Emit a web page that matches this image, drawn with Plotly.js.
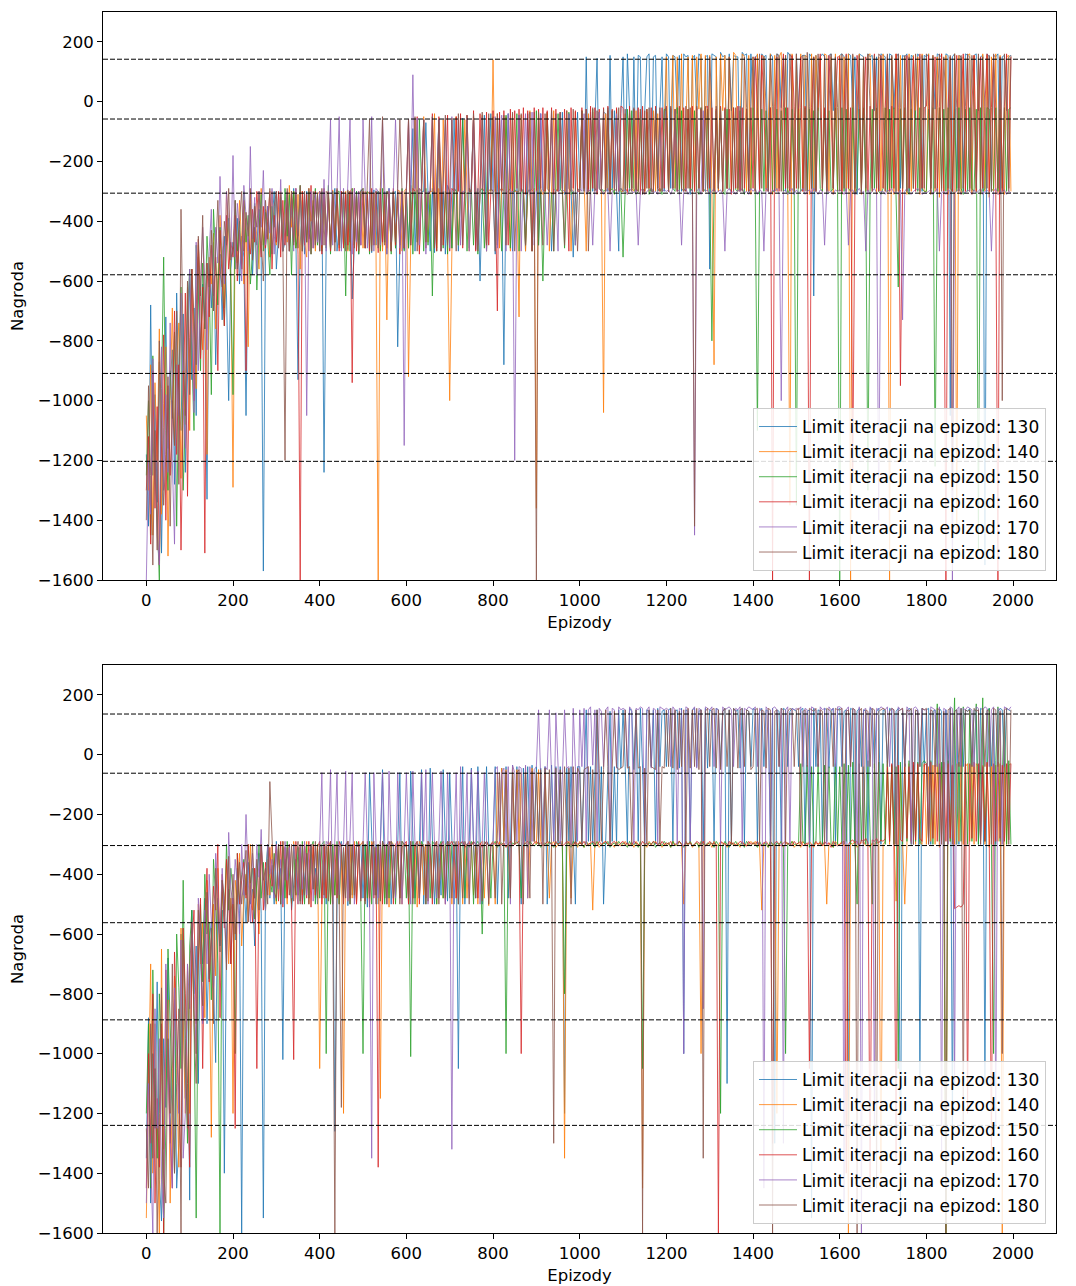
<!DOCTYPE html>
<html>
<head>
<meta charset="utf-8">
<script src="https://cdn.plot.ly/plotly-3.0.1.min.js"></script>
<style>
  html, body { margin: 0; padding: 0; background: #fff; }
  #chart { width: 1076px; height: 1286px; }
</style>
</head>
<body>
<div id="chart"></div>
<script>
// Episode numbers (one sample every 5 episodes)
const episodes = [
  0,5,10,15,20,25,30,35,40,45,50,55,60,65,70,75,80,85,90,95,
  100,105,110,115,120,125,130,135,140,145,150,155,160,165,170,175,180,185,190,195,
  200,205,210,215,220,225,230,235,240,245,250,255,260,265,270,275,280,285,290,295,
  300,305,310,315,320,325,330,335,340,345,350,355,360,365,370,375,380,385,390,395,
  400,405,410,415,420,425,430,435,440,445,450,455,460,465,470,475,480,485,490,495,
  500,505,510,515,520,525,530,535,540,545,550,555,560,565,570,575,580,585,590,595,
  600,605,610,615,620,625,630,635,640,645,650,655,660,665,670,675,680,685,690,695,
  700,705,710,715,720,725,730,735,740,745,750,755,760,765,770,775,780,785,790,795,
  800,805,810,815,820,825,830,835,840,845,850,855,860,865,870,875,880,885,890,895,
  900,905,910,915,920,925,930,935,940,945,950,955,960,965,970,975,980,985,990,995,
  1000,1005,1010,1015,1020,1025,1030,1035,1040,1045,1050,1055,1060,1065,1070,1075,1080,1085,1090,1095,
  1100,1105,1110,1115,1120,1125,1130,1135,1140,1145,1150,1155,1160,1165,1170,1175,1180,1185,1190,1195,
  1200,1205,1210,1215,1220,1225,1230,1235,1240,1245,1250,1255,1260,1265,1270,1275,1280,1285,1290,1295,
  1300,1305,1310,1315,1320,1325,1330,1335,1340,1345,1350,1355,1360,1365,1370,1375,1380,1385,1390,1395,
  1400,1405,1410,1415,1420,1425,1430,1435,1440,1445,1450,1455,1460,1465,1470,1475,1480,1485,1490,1495,
  1500,1505,1510,1515,1520,1525,1530,1535,1540,1545,1550,1555,1560,1565,1570,1575,1580,1585,1590,1595,
  1600,1605,1610,1615,1620,1625,1630,1635,1640,1645,1650,1655,1660,1665,1670,1675,1680,1685,1690,1695,
  1700,1705,1710,1715,1720,1725,1730,1735,1740,1745,1750,1755,1760,1765,1770,1775,1780,1785,1790,1795,
  1800,1805,1810,1815,1820,1825,1830,1835,1840,1845,1850,1855,1860,1865,1870,1875,1880,1885,1890,1895,
  1900,1905,1910,1915,1920,1925,1930,1935,1940,1945,1950,1955,1960,1965,1970,1975,1980,1985,1990,1995
];

const iterationLimits = [130, 140, 150, 160, 170, 180];

// ---- Run A (upper panel): reward per episode ----
const rewardA130 = [
  -1180,-1420,-680,-1250,-980,-1340,-870,-1510,-1090,-720,-1160,-940,-830,-1280,-640,-990,-1100,-710,-1240,-860,
  -580,-930,-690,-1050,-520,-830,-610,-760,-1330,-540,-690,-470,-880,-600,-510,-730,-450,-650,-1000,-560,
  -470,-560,-390,-610,-450,-520,-1050,-500,-340,-580,-420,-480,-360,-520,-1570,-480,-350,-520,-410,-300,
  -560,-430,-330,-500,-470,-320,-500,-380,-290,-450,-930,-480,-330,-510,-300,-460,-420,-350,-490,-310,
  -500,-300,-1240,-470,-310,-490,-350,-290,-500,-420,-300,-480,-305,-495,-300,-660,-470,-300,-510,-295,
  -300,-490,-310,-300,-505,-295,-480,-300,-310,-485,-300,-510,-290,-500,-305,-300,-820,-490,-300,-495,
  -300,-490,-310,-90,-500,-295,-480,-300,-300,-70,-310,-500,-290,-505,-300,-60,-480,-300,-510,-280,
  -300,-490,-60,-300,-500,-290,-55,-300,-310,-490,-300,-50,-495,-290,-600,-300,-45,-500,-300,-40,
  -290,-510,-300,-50,-300,-880,-290,-40,-300,-500,-295,-300,-45,-290,-300,-500,-40,-300,-290,-35,
  -300,-480,-40,-295,-300,-35,-290,-500,-300,-40,-300,-295,-35,-310,-300,-40,-290,-520,-300,-35,
  -290,-40,-300,150,-295,-35,-300,-40,145,-290,-300,-35,-40,-300,155,-290,-30,-300,-500,-40,
  150,-300,160,-30,-290,150,-300,155,150,-310,-30,150,160,-300,150,155,-290,-30,150,-300,
  160,150,-290,155,150,-40,155,-300,160,150,155,-310,145,155,-30,160,150,-300,150,155,
  -560,160,155,150,-300,165,150,155,-290,160,-30,155,150,150,-300,165,155,160,-300,160,
  -20,150,155,-310,160,150,155,-300,160,150,-300,160,155,-20,150,-300,165,155,150,-310,
  160,-30,150,155,155,-300,160,150,-650,155,-20,150,160,150,-300,155,160,-30,150,-300,
  155,160,150,-300,160,155,-20,150,-310,160,155,150,-300,160,150,155,-30,150,-300,160,
  155,150,-300,160,155,-25,150,160,-290,155,150,160,-300,155,150,-30,160,150,-300,155,
  150,160,-310,150,-25,160,155,150,-300,160,155,-1050,150,160,-290,155,150,-300,160,155,
  150,-300,155,160,-30,150,155,-1550,160,150,-300,155,150,160,-310,150,155,-30,150,155
];
const rewardA140 = [
  -1050,-1300,-880,-1450,-940,-1200,-760,-1380,-1010,-820,-1520,-1000,-690,-1150,-870,-740,-1260,-900,-1080,-620,
  -1100,-560,-760,-960,-480,-650,-830,-700,-1180,-520,-610,-440,-760,-600,-380,-520,-690,-300,-460,-580,
  -1290,-410,-540,-330,-470,-610,-390,-820,-300,-500,-350,-440,-560,-290,-480,-360,-400,-520,-300,-450,
  -480,-360,-300,-500,-330,-470,-280,-420,-300,-490,-310,-560,-300,-470,-520,-290,-400,-330,-500,-310,
  -300,-490,-310,-480,-300,-500,-295,-470,-310,-490,-300,-480,-300,-500,-300,-290,-480,-310,-505,-300,
  -490,-300,-310,-300,-480,-305,-500,-1600,-290,-500,-310,-730,-300,-480,-300,-490,-295,-300,-500,-300,
  -290,-920,-480,-300,-60,-300,-500,-310,-50,-310,-470,-300,-300,-40,-490,-290,-500,-60,-310,-480,
  -1000,-500,-300,-50,-480,-300,-310,-60,-300,-500,-290,-50,-300,-480,-300,-45,-310,-500,-300,-290,
  140,-300,-40,-490,-290,-300,-50,-300,-500,-40,-300,-300,-720,-45,-290,-500,-300,-30,-300,-290,
  -1360,-40,-290,-310,-300,-35,-500,-300,-30,-290,-300,-40,-310,-300,-30,-290,-500,-300,-35,-300,
  -290,-30,-300,-500,-40,-300,-35,-290,-300,-35,-290,-1040,-40,-290,-300,-30,-300,-25,-290,-300,
  -300,-40,-310,-30,-290,-300,-30,-300,-25,-290,-310,-35,-300,-290,-30,-300,-40,-300,-290,-30,
  150,-300,-30,155,-290,150,-300,160,-300,-30,150,-290,155,-300,150,-25,160,-300,155,-300,
  155,-300,-880,150,-300,160,-30,155,-290,150,-300,165,155,-300,-30,160,150,-300,155,-310,
  150,-300,160,-290,155,150,-300,-30,160,-310,155,-300,150,165,-300,155,-290,-1350,160,-300,
  155,-290,160,-300,155,150,-310,160,-300,155,-30,150,-300,160,155,-300,150,-310,160,-300,
  155,-310,150,-300,160,-1600,155,-300,-30,160,-310,150,-300,155,160,-300,155,-310,150,-300,
  160,-300,155,-1600,150,-310,160,-300,155,-300,150,-310,160,-300,155,-30,150,-310,160,-300,
  -300,160,-310,155,-300,150,-320,160,-300,155,-310,150,-300,160,-1450,155,-310,150,-300,155,
  160,-310,155,-300,150,-310,160,-300,155,-320,150,-300,160,-310,155,-300,-310,150,155,-300
];
const rewardA150 = [
  -1250,-1000,-1450,-850,-1180,-1380,-1600,-960,-520,-1100,-1300,-900,-1060,-770,-1420,-940,-620,-1300,-1050,-700,
  -560,-850,-1100,-480,-640,-900,-540,-760,-450,-600,-980,-360,-520,-680,-420,-560,-750,-470,-390,-620,
  -980,-330,-500,-400,-560,-300,-470,-380,-610,-510,-340,-630,-440,-310,-500,-370,-460,-580,-350,-420,
  -300,-480,-320,-500,-290,-450,-310,-580,-300,-490,-440,-280,-500,-330,-470,-300,-510,-360,-290,-480,
  -310,-500,-300,-490,-280,-510,-300,-470,-300,-300,-490,-310,-650,-300,-500,-290,-480,-300,-510,-300,
  -290,-490,-300,-510,-300,-480,-310,-300,-500,-290,-470,-300,-305,-510,-300,-490,-300,-480,-290,-500,
  -300,-490,-280,-510,-300,-470,-60,-300,-500,-290,-480,-310,-650,-300,-500,-70,-290,-490,-300,-510,
  -300,-490,-290,-300,-480,-310,-60,-300,-500,-290,-300,-480,-300,-510,-300,-290,-490,-300,-55,-300,
  -50,-300,-480,-290,-500,-300,-45,-310,-490,-300,-300,-40,-500,-290,-310,-480,-300,-295,-500,-300,
  -30,-480,-300,-600,-290,-40,-300,-310,-500,-300,-40,-295,-300,-490,-300,-35,-310,-300,-480,-290,
  -300,-30,-290,-40,-300,-310,-25,-290,-300,-35,-290,-300,-295,-30,-300,-290,-310,-25,-300,-290,
  -520,-290,-25,-300,-30,-290,-310,-300,-35,-290,-300,-25,-310,-290,-300,-30,-300,-290,-310,-25,
  -30,-300,-25,-290,-300,-20,-310,-30,-290,-300,-25,-300,-290,-30,-300,-310,-20,-290,-300,-25,
  -300,-800,-300,-30,-290,-20,-300,-310,-25,-290,-300,-20,-295,-300,-30,-290,-310,-25,-300,-290,
  -20,-300,-1100,-290,-25,-300,-30,-290,-20,-300,-300,-25,-290,-30,-300,-20,-310,-290,-25,-300,
  -1350,-25,-300,-290,-20,-300,-25,-290,-30,-300,-20,-290,-300,-25,-310,-30,-300,-290,-20,-300,
  -1600,-20,-300,-25,-290,-300,-20,-310,-290,-25,-300,-20,-290,-1300,-300,-25,-290,-20,-300,-310,
  -290,-20,-300,-25,-290,-20,-300,-620,-25,-290,-20,-300,-310,-25,-290,-30,-300,-20,-290,-300,
  -300,-25,-290,-20,-1220,-300,-20,-290,-25,-300,-20,-290,-300,-25,-300,-20,-290,-310,-25,-300,
  -20,-290,-300,-25,-1500,-20,-300,-290,-20,-25,-300,-290,-20,-300,-25,-290,-20,-300,-25,-20
];
const rewardA160 = [
  -1300,-1120,-1480,-900,-1360,-1020,-1550,-1200,-780,-1400,-950,-1250,-1060,-700,-1180,-880,-1500,-1040,-640,-1320,
  -790,-560,-1000,-700,-460,-860,-620,-1510,-540,-720,-480,-650,-520,-900,-430,-600,-750,-380,-560,-470,
  -520,-380,-600,-430,-560,-330,-900,-450,-510,-360,-470,-300,-420,-520,-350,-490,-400,-300,-560,-380,
  -470,-300,-520,-330,-480,-310,-500,-300,-470,-290,-510,-1600,-300,-480,-310,-500,-280,-490,-300,-470,
  -300,-510,-290,-480,-300,-500,-310,-470,-295,-500,-300,-490,-310,-480,-300,-940,-290,-500,-300,-480,
  -300,-490,-310,-500,-290,-480,-300,-505,-300,-470,-310,-490,-300,-500,-290,-480,-300,-510,-300,-490,
  -300,-60,-480,-290,-300,-50,-510,-300,-60,-490,-310,-300,-40,-300,-500,-50,-290,-480,-300,-45,
  -500,-290,-300,-50,-300,-40,-490,-290,-45,-300,-300,-30,-500,-310,-40,-290,-300,-35,-480,-300,
  -30,-290,-700,-35,-300,-30,-290,-480,-25,-300,-30,-290,-25,-300,-20,-310,-30,-290,-500,-20,
  -300,-25,-290,-20,-300,-30,-290,-20,-310,-25,-300,-35,-290,-25,-300,-500,-20,-290,-30,-300,
  -300,-20,-290,-25,-300,-15,-290,-20,-310,-25,-300,-20,-290,-15,-300,-25,-290,-20,-300,-15,
  -20,-290,-300,-15,-290,-25,-300,-20,-310,-15,-300,-25,-290,-20,-300,-15,-290,-300,-20,-290,
  -15,-300,-20,-290,-25,-300,-15,-290,-20,-300,-25,-290,-15,-300,-20,-290,-25,-300,-20,-15,
  -290,-20,-300,-25,-290,-15,-300,-20,-290,-25,-310,-20,-290,-15,-300,-20,-290,-25,-300,-20,
  -290,150,-20,-300,155,-15,-290,-300,-20,-1600,-15,150,-300,-15,160,-290,-20,-300,155,-15,
  -290,-20,150,-300,-15,-290,-1600,-20,150,-300,-15,160,-290,-20,-300,155,-15,-290,-20,150,
  150,-300,-15,160,-290,-20,-1250,-300,155,-15,-290,-20,150,-300,-15,-290,160,-20,-300,155,
  -290,-20,150,-300,-15,-290,160,-20,-950,-300,-15,155,-290,-20,150,-300,-15,160,-290,-20,
  -15,155,-290,-20,150,-300,-15,160,-290,-1600,-20,150,-300,-15,155,-290,-20,160,-300,150,
  -290,-15,155,-300,-20,150,-290,-15,160,-300,-20,155,-290,-1600,150,-300,-15,160,-290,150
];
const rewardA170 = [
  -1600,-1200,-1380,-860,-1100,-1450,-1550,-820,-1300,-980,-1240,-740,-1200,-1480,-880,-1050,-640,-1020,-1160,-760,
  -560,-780,-1040,-470,-900,-620,-420,-600,-830,-500,-360,-700,-420,-540,-250,-480,-610,-300,-400,-520,
  -180,-520,-340,-440,-600,-280,-380,-500,-150,-460,-320,-580,-300,-420,-230,-480,-350,-440,-290,-510,
  -300,-480,-260,-500,-380,-300,-460,-330,-500,-290,-450,-310,-480,-300,-1050,-420,-300,-490,-310,-470,
  -300,-480,-260,-500,-300,-60,-480,-310,-300,-50,-500,-290,-480,-300,-60,-510,-290,-470,-300,-480,
  -60,-300,-490,-310,-50,-500,-290,-300,-480,-60,-300,-510,-290,-470,-300,-60,-300,-490,-300,-1150,
  -300,-60,-300,90,-290,-55,-480,-300,-60,-510,-300,-300,-50,-480,-290,-60,-500,-300,-55,-310,
  -490,-50,-300,-290,-60,-480,-300,-300,-55,-500,-290,-60,-310,-480,-300,-50,-300,-500,-60,-290,
  -300,-50,-490,-290,-45,-300,-500,-40,-300,-300,-1200,-290,-45,-500,-300,-40,-290,-310,-35,-480,
  -300,-290,-40,-300,-310,-480,-300,-35,-290,-300,-500,-40,-295,-300,-310,-40,-290,-300,-480,-300,
  -290,-300,-40,-310,-295,-300,-480,-290,-300,-35,-295,-310,-300,-290,-500,-300,-295,-40,-300,-290,
  -300,-295,-310,-290,-300,-305,-295,-480,-300,-290,-310,-300,-295,-290,-305,-300,-310,-30,-300,-295,
  -300,-295,-310,-290,-30,-300,-295,-480,-300,-290,-310,-300,-295,-1450,-300,-290,-310,-30,-300,-295,
  -310,-300,-290,-305,-300,-295,-310,-500,-300,-290,-305,-300,-310,-295,-300,-290,-305,-300,-310,-290,
  -300,-290,-310,-295,-300,-500,-290,-300,-310,-295,-300,-290,-310,-1000,-300,-295,-310,-300,-290,-310,
  -295,-305,-300,-290,-310,-300,-295,-305,-290,-300,-310,-295,-300,-480,-290,-305,-300,-310,-295,-300,
  -295,-300,-310,-290,-480,-300,-295,-310,-300,-290,-305,-300,-500,-295,-310,-300,-290,-305,-1400,-300,
  -300,-310,-295,-300,-290,-305,-300,-310,-295,-730,-300,-290,-305,-310,-300,-295,-290,-300,-310,-305,
  -305,-300,-295,-310,-300,-290,-500,-305,-300,-310,-295,-300,-1600,-305,-300,-290,-310,-300,-305,-295,
  -300,-310,-295,-305,-300,-290,-310,-300,-295,-305,-500,-300,-290,-310,-305,-300,-295,-310,-300,-305
];
const rewardA180 = [
  -1400,-950,-1250,-1550,-1100,-1500,-800,-1050,-1350,-1180,-920,-1420,-1000,-1150,-700,-1280,-360,-820,-1050,-600,
  -980,-560,-700,-880,-450,-650,-380,-760,-540,-620,-430,-700,-500,-330,-560,-620,-400,-480,-290,-530,
  -480,-330,-560,-400,-300,-500,-370,-450,-290,-530,-350,-420,-300,-480,-600,-330,-460,-290,-510,-350,
  -300,-490,-310,-470,-1200,-290,-500,-300,-480,-310,-490,-280,-500,-300,-470,-290,-510,-300,-480,-310,
  -500,-290,-480,-300,-310,-490,-300,-500,-290,-480,-310,-300,-500,-295,-470,-300,-490,-310,-500,-300,
  -290,-480,-300,-60,-500,-310,-300,-490,-290,-50,-480,-300,-310,-500,-300,-470,-290,-60,-300,-490,
  -290,-60,-480,-300,-50,-500,-290,-300,-60,-470,-310,-300,-50,-490,-300,-60,-500,-290,-45,-480,
  -300,-55,-300,-500,-40,-290,-480,-300,-45,-300,-300,-40,-290,-500,-300,-35,-300,-480,-40,-290,
  -300,-500,-40,-290,-300,-45,-480,-300,-290,-35,-500,-300,-300,-40,-290,-480,-300,-35,-500,-300,
  -1600,-35,-300,-480,-40,-290,-300,-30,-500,-300,-290,-35,-300,-480,-30,-290,-300,-25,-300,-500,
  -290,-30,-300,-25,-500,-290,-20,-300,-30,-290,-300,-25,-300,-20,-310,-30,-290,-300,-20,-290,
  -300,-25,-290,-30,-300,-20,-290,-300,-25,-310,-30,-290,-20,-300,-300,-25,-290,-20,-300,-30,
  -20,-300,-15,-290,-25,-300,-20,-290,-300,-15,-290,-20,-300,-1420,-15,-290,-20,-300,-15,-290,
  150,-20,-300,-15,-290,-20,-300,-25,-290,150,-15,-300,-20,-290,-15,-300,150,-20,-290,-15,
  150,-300,-15,160,-290,150,-20,-300,155,-15,-290,160,150,-300,-20,155,-290,160,-15,-300,
  160,-290,-20,155,-300,165,-15,-290,150,-300,160,-20,-290,155,-300,-15,160,-290,150,-20,
  -300,160,-290,155,-15,-300,160,-290,-20,155,-300,150,-290,160,-15,-300,155,-290,160,150,
  -20,-300,160,-290,155,-15,-300,160,-20,-290,155,-300,150,-15,-290,160,-20,-300,155,-290,
  160,-15,-300,155,-290,-20,160,-300,150,-15,-290,155,-1300,160,-20,-300,155,-290,-15,160,
  -300,155,-20,-290,160,-300,150,-15,-290,155,-300,160,-20,-290,150,-1000,160,-15,-300,155
];

// ---- Run B (lower panel): reward per episode ----
const rewardB130 = [
  -1350,-880,-1500,-1000,-1250,-760,-1420,-1560,-950,-1180,-680,-1300,-1050,-820,-1450,-1300,-600,-900,-1150,-720,
  -1490,-520,-800,-640,-1100,-560,-700,-480,-900,-620,-560,-780,-1030,-480,-640,-520,-1400,-600,-450,-700,
  -480,-620,-380,-530,-1600,-420,-560,-360,-500,-450,-640,-400,-330,-530,-1550,-420,-300,-480,-370,-500,
  -290,-440,-380,-1020,-350,-480,-300,-520,-420,-350,-470,-310,-500,-400,-330,-480,-300,-450,-380,-500,
  -300,-480,-310,-500,-290,-470,-300,-1260,-500,-310,-290,-480,-300,-505,-300,-470,-310,-490,-300,-300,
  -480,-300,-510,-60,-290,-470,-300,-500,-300,-50,-480,-300,-290,-500,-310,-470,-300,-60,-480,-300,
  -300,-500,-55,-290,-480,-300,-300,-50,-500,-300,-490,-45,-290,-500,-310,-300,-470,-50,-300,-490,
  -60,-290,-500,-300,-1050,-300,-40,-500,-300,-290,-45,-300,-480,-40,-300,-500,-290,-40,-300,-300,
  -290,-40,-500,-300,-45,-290,-40,-480,-300,-35,-290,-40,-300,-500,-45,-290,-40,-300,-35,-290,
  -40,-300,-45,-290,-40,-500,-300,-35,-290,-40,-300,-40,-300,-1200,-45,-290,-40,-300,-500,-40,
  -40,-300,-45,150,-290,-40,-300,-35,150,-290,-40,-500,-300,-35,145,-290,-40,-300,150,-45,
  150,-40,-300,155,145,-50,150,-290,155,-45,-300,150,145,-40,150,-300,155,-40,145,150,
  -40,150,155,-300,145,150,-45,155,-1000,150,145,-300,150,155,-40,145,150,-300,155,-45,
  150,145,-300,155,150,-40,145,155,-1100,150,-300,155,145,150,-45,155,-300,150,145,-40,
  155,150,-300,145,155,-40,150,145,-300,155,-1300,150,145,-300,155,150,-40,145,155,150,
  145,-40,150,155,-300,145,150,-1550,155,-40,150,145,-300,155,150,-45,145,155,-300,150,
  155,-40,145,150,-1250,155,150,-300,145,155,-40,150,145,-300,155,150,-45,145,155,-300,
  150,145,-40,155,150,-300,145,155,-1550,150,-40,145,155,150,-300,145,150,-1100,155,-40,
  150,155,-300,145,150,-40,155,145,-300,150,-45,155,-1250,145,150,-300,155,-40,150,145,
  155,-40,150,145,-300,155,150,-1100,145,155,-40,150,-300,145,155,150,-45,155,150,145
];
const rewardB140 = [
  -1550,-1100,-700,-1400,-900,-1250,-1600,-650,-1320,-1000,-820,-1500,-1150,-740,-1050,-1380,-580,-950,-1200,-700,
  -1200,-600,-850,-1000,-500,-700,-560,-880,-420,-650,-1280,-500,-740,-380,-620,-460,-560,-350,-700,-480,
  -1200,-420,-500,-330,-640,-470,-400,-560,-300,-520,-380,-460,-600,-300,-410,-520,-350,-470,-300,-440,
  -500,-300,-470,-290,-380,-500,-310,-480,-290,-450,-500,-300,-470,-350,-290,-500,-400,-310,-480,-300,
  -1050,-500,-310,-480,-290,-500,-300,-470,-310,-500,-300,-1200,-310,-490,-300,-480,-290,-500,-310,-300,
  -290,-480,-300,-500,-290,-310,-470,-300,-1150,-290,-480,-300,-510,-290,-300,-480,-310,-290,-500,-300,
  -300,-490,-290,-480,-300,-510,-290,-305,-470,-300,-490,-300,-480,-290,-500,-300,-310,-480,-300,-295,
  -290,-500,-300,-480,-290,-310,-500,-300,-480,-290,-300,-470,-310,-500,-300,-290,-480,-300,-505,-300,
  -290,-500,-60,-300,-45,-290,-50,-300,-480,-40,-300,-50,-290,-60,-300,-40,-480,-300,-45,-290,
  -300,-50,-290,-300,-60,-290,-480,-300,-290,-310,-300,-295,-290,-1350,-300,-290,-480,-300,-290,-310,
  -290,-300,-310,-290,-300,-295,-520,-300,-290,-310,-300,-295,-290,-300,-305,-300,-310,-290,-300,-305,
  -300,-290,-305,-300,-295,-310,-290,-300,-305,-1450,-300,-310,-290,-300,-305,-290,-300,-295,-310,-300,
  -300,-295,-310,-290,-300,-305,-290,-300,-500,-295,-300,-290,-310,-300,-295,-300,-1000,-290,-305,-300,
  -295,-310,-290,-300,-305,-290,-300,-295,-310,-300,-290,-305,-300,-295,-310,-290,-300,-305,-300,-290,
  -300,-290,-305,-300,-520,-295,-300,-310,-290,-300,-305,-1200,-300,-290,-310,-300,-295,-300,-290,-310,
  -300,-295,-310,-290,-300,-305,-290,-300,-310,-295,-300,-290,-305,-300,-500,-295,-300,-310,-290,-300,
  -300,-290,-305,-300,-1600,-295,-300,-290,-310,-300,-295,-290,-305,-300,-310,-295,-300,-290,-300,-1400,
  -300,-290,-30,-300,-40,-310,-490,-300,-35,-290,-500,-300,-30,-295,-40,-300,-35,-290,-300,-30,
  -300,-40,-290,-35,-300,-30,-310,-40,-300,-1600,-35,-290,-40,-300,-30,-290,-35,-300,-40,-30,
  -290,-35,-300,-30,-40,-290,-35,-300,-30,-310,-40,-300,-35,-290,-30,-1600,-40,-300,-35,-30
];
const rewardB150 = [
  -1200,-900,-1450,-720,-1100,-1350,-800,-1000,-1600,-1250,-650,-880,-1100,-1400,-600,-780,-1050,-420,-950,-1300,
  -640,-520,-880,-1550,-680,-500,-760,-400,-600,-560,-820,-350,-480,-700,-1600,-420,-560,-300,-520,-380,
  -460,-1000,-330,-500,-400,-350,-470,-300,-430,-380,-550,-420,-300,-480,-360,-520,-300,-410,-460,-330,
  -490,-300,-500,-310,-480,-290,-400,-500,-300,-470,-310,-490,-290,-500,-300,-480,-310,-290,-500,-300,
  -480,-300,-290,-1000,-310,-500,-300,-470,-290,-500,-300,-480,-310,-290,-500,-300,-480,-290,-310,-500,
  -1000,-300,-480,-290,-500,-310,-470,-300,-490,-290,-500,-300,-480,-290,-310,-500,-300,-480,-290,-300,
  -480,-300,-1010,-290,-500,-300,-480,-290,-310,-500,-300,-480,-290,-300,-500,-310,-290,-480,-300,-290,
  -480,-300,-290,-310,-500,-300,-290,-480,-300,-310,-290,-500,-300,-290,-310,-600,-300,-290,-305,-480,
  -300,-290,-310,-300,-295,-305,-1000,-300,-310,-295,-300,-290,-305,-480,-300,-295,-310,-290,-300,-305,
  -300,-290,-310,-300,-295,-305,-290,-300,-310,-295,-300,-290,-305,-800,-300,-295,-310,-290,-300,-305,
  -295,-300,-310,-290,-305,-300,-295,-310,-290,-300,-305,-295,-300,-290,-310,-300,-295,-305,-290,-300,
  -295,-300,-310,-290,-305,-300,-295,-310,-290,-1050,-300,-305,-295,-300,-290,-310,-300,-295,-305,-290,
  -300,-295,-310,-290,-305,-300,-290,-300,-310,-295,-300,-290,-305,-300,-295,-310,-290,-300,-305,-295,
  -300,-295,-310,-290,-300,-1200,-305,-290,-300,-310,-295,-300,-290,-305,-300,-295,-310,-290,-300,-305,
  -295,-300,-310,-290,-305,-300,-295,-310,-290,-300,-305,-295,-300,-290,-310,-1000,-295,-305,-290,-300,
  -300,-295,-30,-290,-300,-35,-310,-40,-300,-290,-30,-305,-300,-35,-290,-40,-300,-310,-30,-300,
  -40,-300,-30,-290,-35,-300,-25,-310,-500,-30,-290,-40,-300,-20,-290,-500,-30,-300,-25,-290,
  -30,-300,-20,-290,-35,-300,-40,-1050,-25,-300,-30,-290,-20,-300,-35,-290,-25,-300,-30,-20,
  -30,-290,-20,-300,-35,170,-290,-25,-300,-1600,-20,-290,-30,190,-300,-25,-290,160,-20,-300,
  150,-290,-20,170,-300,-25,190,-290,-30,155,-300,-1000,-20,160,-290,-25,150,-300,-20,-300
];
const rewardB160 = [
  -1450,-1000,-1300,-800,-1500,-1150,-1380,-900,-1600,-720,-1050,-1250,-1450,-660,-900,-1150,-1380,-580,-800,-1100,
  -1380,-640,-520,-900,-700,-480,-1050,-560,-380,-760,-620,-440,-520,-300,-880,-400,-580,-350,-460,-700,
  -480,-1250,-330,-500,-420,-360,-480,-300,-450,-560,-380,-1050,-420,-300,-520,-360,-470,-310,-440,-380,
  -300,-490,-290,-510,-310,-480,-300,-500,-1020,-290,-470,-310,-500,-300,-480,-290,-510,-300,-470,-310,
  -290,-500,-300,-480,-310,-290,-500,-300,-480,-290,-310,-500,-300,-290,-480,-310,-300,-500,-290,-480,
  -300,-490,-290,-510,-300,-480,-310,-1380,-290,-500,-300,-480,-290,-310,-500,-300,-290,-480,-310,-300,
  -290,-500,-300,-480,-310,-290,-500,-300,-310,-480,-290,-300,-500,-310,-290,-480,-300,-290,-500,-300,
  -300,-290,-310,-480,-300,-295,-290,-310,-300,-295,-305,-290,-300,-480,-295,-310,-300,-290,-305,-300,
  -295,-300,-290,-305,-300,-295,-310,-300,-290,-305,-300,-295,-290,-1000,-305,-295,-290,-300,-305,-295,
  -290,-300,-295,-305,-300,-290,-295,-300,-305,-290,-300,-295,-305,-300,-290,-295,-300,-305,-290,-300,
  -295,-300,-290,-305,-300,-295,-290,-300,-305,-290,-300,-295,-290,-300,-305,-295,-290,-300,-305,-295,
  -290,-300,-295,-305,-300,-290,-295,-300,-305,-290,-300,-295,-305,-300,-290,-295,-300,-305,-290,-300,
  -295,-300,-290,-305,-300,-295,-290,-300,-305,-290,-300,-295,-305,-300,-290,-295,-300,-290,-305,-300,
  -290,-300,-295,-305,-1600,-290,-295,-300,-305,-290,-300,-295,-305,-300,-290,-295,-300,-305,-290,-300,
  -295,-300,-290,-305,-300,-295,-290,-300,-305,-1300,-295,-290,-300,-305,-295,-290,-300,-295,-305,-290,
  -300,-295,-290,-305,-300,-295,-1050,-300,-305,-290,-300,-295,-305,-290,-300,-295,-310,-290,-300,-305,
  -300,-295,-290,-1400,-300,-290,-285,-295,-290,-305,-285,-290,-280,-295,-1450,-285,-290,-280,-295,-285,
  -290,-280,-40,-290,-30,-285,-1350,-35,-285,-290,-30,-280,-40,-290,-25,-285,-30,-280,-290,-35,
  -30,-290,-25,-280,-35,-290,-30,-285,-25,-290,-30,-280,-35,-515,-510,-505,-510,-500,-30,-1200,
  -30,-280,-25,-290,-30,-285,-40,-290,-25,-280,-1350,-30,-290,-25,-280,-35,-290,-30,-285,-30
];
const rewardB170 = [
  -1500,-1100,-1350,-1600,-850,-1250,-950,-1420,-1550,-700,-1050,-1300,-1450,-780,-980,-1200,-620,-1350,-1200,-700,
  -850,-560,-760,-1000,-480,-620,-900,-520,-700,-400,-560,-780,-330,-480,-600,-380,-520,-700,-260,-450,
  -500,-350,-440,-600,-300,-470,-200,-420,-560,-330,-480,-300,-410,-250,-460,-520,-300,-400,-350,-480,
  -300,-450,-350,-500,-290,-420,-310,-480,-300,-380,-500,-300,-450,-290,-470,-330,-300,-490,-310,-440,
  -300,-60,-480,-290,-300,-50,-500,-310,-60,-470,-300,-300,-55,-490,-290,-60,-500,-300,-310,-480,
  -300,-60,-300,-480,-1350,-60,-300,-480,-300,-60,-290,-500,-55,-300,-300,-480,-60,-290,-500,-300,
  -60,-290,-500,-55,-300,-300,-480,-60,-290,-50,-500,-300,-60,-300,-480,-290,-55,-310,-500,-60,
  -300,-1320,-300,-60,-490,-40,-300,-300,-60,-480,-50,-290,-300,-55,-500,-300,-60,-290,-480,-300,
  -300,-50,-40,-290,-60,-45,-300,-40,-500,-35,-60,-290,-40,-45,-300,-35,-480,-40,-290,-50,
  -40,150,-45,-300,-40,-50,150,-40,-290,140,-35,-300,-40,150,-45,-40,-300,155,-40,-290,
  150,-40,155,-300,150,160,-35,150,-290,155,145,-40,150,160,-300,155,150,-45,160,150,
  155,150,-40,160,150,-300,155,150,160,155,-290,150,160,-45,155,150,-300,160,155,150,
  155,150,-40,160,150,-300,155,150,-1000,160,155,-290,150,160,-45,155,150,-850,160,155,
  150,160,-40,155,150,-300,160,150,155,160,150,-40,155,150,160,-300,155,150,160,155,
  150,160,-40,155,150,-1450,160,150,-300,155,160,150,-40,155,-1300,150,160,-300,155,150,
  155,150,160,-40,155,150,-300,160,155,150,-40,160,150,155,-300,160,150,155,-40,160,
  160,155,-1500,150,160,-40,155,150,-300,160,-1600,150,155,-40,160,150,-1250,155,150,160,
  155,150,160,-40,155,150,-300,160,150,155,-40,160,150,-300,155,160,150,-40,155,150,
  150,-300,160,155,150,-40,160,-1350,155,150,-300,160,155,-1100,150,160,-40,155,150,160,
  155,150,-40,160,155,-300,150,160,155,-40,150,160,-1250,155,150,-300,160,155,150,160
];
const rewardB180 = [
  -1250,-1450,-900,-1350,-1050,-1600,-1200,-780,-1400,-1500,-950,-1200,-700,-1400,-1100,-850,-1600,-620,-1000,-1250,
  -720,-560,-900,-1100,-520,-650,-840,-600,-460,-750,-580,-900,-380,-520,-660,-420,-480,-720,-340,-560,
  -400,-600,-470,-360,-500,-410,-320,-560,-450,-300,-480,-350,-520,-300,-420,-380,-500,-90,-300,-460,
  -480,-300,-500,-290,-420,-310,-470,-300,-490,-360,-290,-500,-300,-470,-330,-500,-300,-450,-290,-480,
  -300,-310,-470,-300,-490,-290,-500,-1600,-300,-480,-1180,-310,-480,-290,-500,-300,-470,-310,-300,-490,
  -290,-500,-300,-480,-310,-290,-500,-300,-480,-290,-310,-500,-300,-290,-480,-310,-300,-500,-290,-300,
  -310,-480,-290,-500,-300,-290,-480,-310,-300,-500,-290,-310,-480,-300,-290,-500,-300,-310,-480,-290,
  -300,-480,-310,-290,-500,-300,-480,-290,-310,-500,-300,-290,-480,-300,-310,-490,-290,-300,-500,-300,
  -310,-480,-290,-60,-500,-300,-55,-290,-480,-60,-300,-60,-50,-290,-500,-60,-300,-480,-55,-290,
  -60,-300,-50,-500,-45,-290,-50,-300,-1300,-45,-290,-50,-300,-40,-300,-45,-500,-40,-300,-45,
  -60,-300,-50,-45,-40,-290,-50,-300,150,-45,-290,-50,150,-40,-300,-45,145,-40,-50,-45,
  -40,150,-45,-40,-300,-50,150,-45,-40,-1600,-45,-300,150,-40,-45,-50,150,-300,-40,-45,
  150,-40,155,-45,150,-50,145,-40,150,-300,155,-45,150,-40,155,-50,150,-1350,145,155,
  -40,150,155,-45,150,-50,145,155,-40,150,-300,155,145,-45,150,155,-40,150,145,-50,
  -40,150,155,-300,150,145,-45,155,150,-1600,145,150,-40,155,150,-300,145,155,150,-40,
  150,155,-300,145,150,-40,155,150,145,155,-40,150,145,-300,155,150,145,-40,155,150,
  150,155,-300,145,150,-40,155,150,-1600,145,155,-300,150,145,-40,155,150,-1450,145,150,
  155,150,-40,145,155,150,-300,145,150,155,-40,150,145,155,-300,150,145,-40,155,150,
  155,-300,150,145,-40,155,150,-300,145,-1600,150,155,-300,145,150,-40,155,-1250,150,145,
  150,-40,155,145,150,-300,155,-40,150,145,-300,155,150,-40,145,-1000,150,155,-300,150
];

// Reference levels (dashed lines) and their right-hand labels
const levelsA = [-1203, -909, -579, -306, -58, 142];
const levelsB = [-1240, -887, -562, -304, -62, 136];
const levelLabels = ['0', '1', '2', '3', '4', '5'];

const runA = [rewardA130, rewardA140, rewardA150, rewardA160, rewardA170, rewardA180];
const runB = [rewardB130, rewardB140, rewardB150, rewardB160, rewardB170, rewardB180];

// ---- styling ----
const palette = ['#1f77b4', '#ff7f0e', '#2ca02c', '#d62728', '#9467bd', '#8c564b'];
const FONT = 'DejaVu Sans, Verdana, sans-serif';
const tickFont = { family: FONT, size: 16.5, color: '#000' };
const legendFont = { family: FONT, size: 17, color: '#000' };

const traces = [];
function addRun(run, tag, xa, ya, legendId) {
  run.forEach((vals, i) => {
    traces.push({
      type: 'scatter',
      mode: 'lines',
      x: episodes,
      y: vals,
      xaxis: xa,
      yaxis: ya,
      name: 'Limit iteracji na epizod: ' + iterationLimits[i],
      legend: legendId,
      legendgroup: tag + iterationLimits[i],
      line: { color: palette[i], width: 1 },
      opacity: 0.8,
      hoverinfo: 'skip'
    });
  });
}
addRun(runA, 'a', 'x', 'y', 'legend');
addRun(runB, 'b', 'x2', 'y3', 'legend2');

const baseAxis = {
  showline: true, linecolor: '#000', linewidth: 1, mirror: true,
  ticks: 'outside', ticklen: 5, tickwidth: 1, tickcolor: '#000',
  showgrid: false, zeroline: false, tickfont: tickFont
};
const xBase = Object.assign({}, baseAxis, {
  range: [-100, 2099], tick0: 0, dtick: 200,
  title: { text: 'Epizody', font: tickFont, standoff: 7 }
});
const yBase = Object.assign({}, baseAxis, {
  range: [-1600, 300], tick0: 0, dtick: 200,
  title: { text: 'Nagroda', font: tickFont, standoff: 10 }
});
function rightAxis(levels, overlay, anchor) {
  return {
    overlaying: overlay, side: 'right', anchor: anchor,
    range: [-1600, 300], tickmode: 'array', tickvals: levels, ticktext: levelLabels,
    ticks: 'outside', ticklen: 5, tickwidth: 1, tickcolor: '#000',
    showline: false, showgrid: false, zeroline: false, tickfont: tickFont
  };
}

function levelShapes(levels, xref, yref) {
  return levels.map(v => ({
    type: 'line', xref: xref, x0: 0, x1: 1,
    yref: yref, y0: v, y1: v,
    line: { color: '#000', width: 1, dash: '5px,2px' },
    layer: 'above'
  }));
}
const shapes = levelShapes(levelsA, 'x domain', 'y').concat(levelShapes(levelsB, 'x2 domain', 'y3'));

const legendBase = {
  xanchor: 'right', yanchor: 'bottom',
  bgcolor: 'rgba(255,255,255,0.85)', bordercolor: '#cccccc', borderwidth: 1,
  font: legendFont, itemwidth: 38, tracegroupgap: 0
};

const layout = {
  width: 1076, height: 1286,
  paper_bgcolor: '#fff', plot_bgcolor: '#fff',
  margin: { l: 103, r: 20, t: 12, b: 53 },
  font: tickFont,
  showlegend: true,
  xaxis: Object.assign({}, xBase, { domain: [0, 1], anchor: 'y' }),
  yaxis: Object.assign({}, yBase, { domain: [0.5348, 1], anchor: 'x' }),
  yaxis2: rightAxis(levelsA, 'y', 'x'),
  xaxis2: Object.assign({}, xBase, { domain: [0, 1], anchor: 'y3' }),
  yaxis3: Object.assign({}, yBase, { domain: [0, 0.4652], anchor: 'x2' }),
  yaxis4: rightAxis(levelsB, 'y3', 'x2'),
  shapes: shapes,
  legend: Object.assign({}, legendBase, { x: 0.9895, y: 0.5422 }),
  legend2: Object.assign({}, legendBase, { x: 0.9895, y: 0.0074 })
};

Plotly.newPlot('chart', traces, layout, { staticPlot: true, displayModeBar: false });
</script>
</body>
</html>
